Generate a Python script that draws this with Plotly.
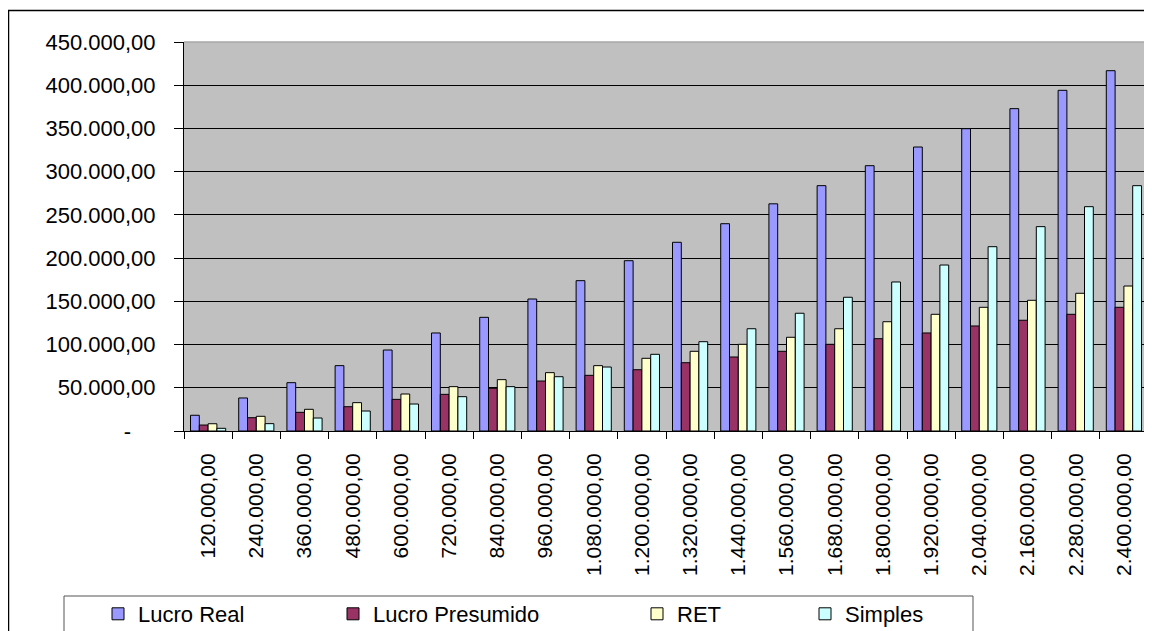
import plotly.graph_objects as go

categories = ["120.000,00", "240.000,00", "360.000,00", "480.000,00", "600.000,00",
              "720.000,00", "840.000,00", "960.000,00", "1.080.000,00", "1.200.000,00",
              "1.320.000,00", "1.440.000,00", "1.560.000,00", "1.680.000,00", "1.800.000,00",
              "1.920.000,00", "2.040.000,00", "2.160.000,00", "2.280.000,00", "2.400.000,00"]

lucro_real = [18200, 38200, 55900, 75600, 93700, 113400, 131500, 152700, 173900, 197000,
              218300, 239800, 262800, 283800, 306900, 328500, 349700, 372900, 394100, 416800]
lucro_presumido = [6900, 15400, 21600, 28100, 36600, 42400, 49400, 57800, 64400, 70900,
                   79000, 85600, 92200, 100300, 106800, 113400, 121500, 128100, 135000, 143100]
ret = [8400, 17000, 25100, 32800, 42800, 51300, 59400, 67500, 75600, 84100,
       92200, 100300, 108400, 118300, 126400, 135000, 143100, 151200, 159300, 167700]
simples = [3100, 8500, 15000, 23100, 31200, 39700, 51300, 62800, 74000, 88700,
           103300, 118300, 136200, 154700, 172400, 192000, 213200, 236400, 259500, 283800]

y_tickvals = [0, 50000, 100000, 150000, 200000, 250000, 300000, 350000, 400000, 450000]
y_ticktext = ["-" + "\u00a0" * 4, "50.000,00", "100.000,00", "150.000,00", "200.000,00",
              "250.000,00", "300.000,00", "350.000,00", "400.000,00", "450.000,00"]

series = [
    ("Lucro Real", lucro_real, "#9999FF", "legend"),
    ("Lucro Presumido", lucro_presumido, "#993366", "legend2"),
    ("RET", ret, "#FFFFCC", "legend3"),
    ("Simples", simples, "#CCFFFF", "legend4"),
]

# page body has an 8px margin; figure coordinates = screen coordinates - OFF
OFF = 8
W, H = 1152 - OFF, 631 - OFF
L, R, T, B = 184 - OFF, 1148 - OFF, 42 - OFF, 431 - OFF


def px(x):
    return (x - OFF - L) / (R - L)


def py(y):
    return (B - (y - OFF)) / (B - T)


fig = go.Figure()
for name, vals, color, lg in series:
    fig.add_trace(go.Bar(
        x=categories, y=vals, name=name,
        marker=dict(color=color, line=dict(color="black", width=1)),
        legend=lg,
    ))

FONT = "Liberation Sans, Arial, sans-serif"
legend_text_x = [138, 373, 677, 845]
legends = {}
for i, key in enumerate(["legend", "legend2", "legend3", "legend4"]):
    legends[key] = dict(
        x=px(legend_text_x[i] - 40), xanchor="left",
        y=py(614), yanchor="middle",
        orientation="h", bgcolor="rgba(0,0,0,0)", borderwidth=0,
        font=dict(family=FONT, size=22, color="black"),
    )

shapes = [
    # outer chart border
    dict(type="line", xref="paper", yref="paper", x0=px(8), x1=px(1170), y0=py(10.5), y1=py(10.5),
         line=dict(color="black", width=1.5)),
    dict(type="line", xref="paper", yref="paper", x0=px(8.5), x1=px(8.5), y0=py(10.5), y1=py(650),
         line=dict(color="black", width=1.5)),
    # legend box
    dict(type="rect", xref="paper", yref="paper", x0=px(64), x1=px(973), y0=py(596), y1=py(660),
         line=dict(color="#555555", width=1), fillcolor="rgba(0,0,0,0)"),
    # plot area top and right edges
    dict(type="line", xref="paper", yref="paper", x0=0, x1=1, y0=1, y1=1,
         line=dict(color="#A8A8A8", width=1.5), layer="above"),
    dict(type="line", xref="paper", yref="paper", x0=1, x1=1, y0=0, y1=1,
         line=dict(color="#808080", width=2), layer="above"),
]

fig.update_layout(
    width=W, height=H,
    margin=dict(l=L, r=W - R, t=T, b=H - B, autoexpand=False),
    paper_bgcolor="white", plot_bgcolor="#C0C0C0",
    barmode="group", bargap=0.27, bargroupgap=0,
    showlegend=True,
    shapes=shapes,
    **legends,
    xaxis=dict(
        type="category", tickangle=-90, tickson="boundaries",
        ticks="outside", ticklen=7, tickcolor="black", tickwidth=1,
        showline=True, linecolor="black", linewidth=1,
        showgrid=False, ticklabelstandoff=13, automargin=False,
        tickfont=dict(family=FONT, size=21, color="black"),
    ),
    yaxis=dict(
        range=[0, 450000], tickmode="array", tickvals=y_tickvals, ticktext=y_ticktext,
        ticks="outside", ticklen=9, tickcolor="black", tickwidth=1,
        showline=True, linecolor="black", linewidth=1,
        showgrid=True, gridcolor="black", gridwidth=1, zeroline=False,
        ticklabelstandoff=14, automargin=False,
        tickfont=dict(family=FONT, size=22, color="black"),
    ),
)

fig.write_html("out.html")
